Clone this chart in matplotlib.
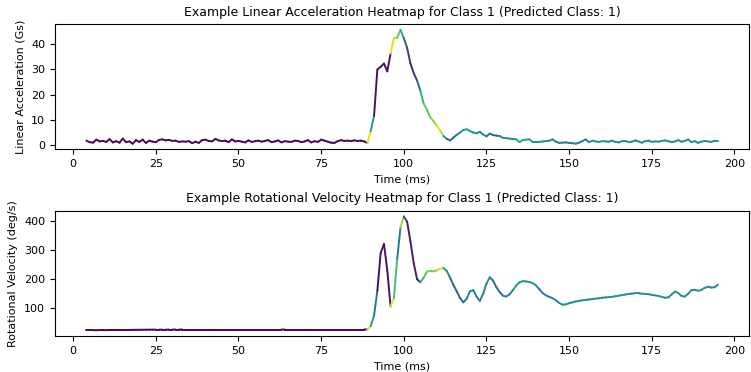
import numpy as np
import matplotlib
matplotlib.use("Agg")
import matplotlib.pyplot as plt
from matplotlib.collections import LineCollection

time_ms = np.arange(4, 196)

# linear acceleration (Gs), t = 4 .. 195
lin_acc = [
    1.8, 1.2, 1.0, 2.2, 1.5, 1.7, 1.3, 2.4, 1.1, 1.6,   # 4-13
    1.0, 2.6, 1.2, 1.5, 0.6, 2.0, 1.3, 2.2, 0.9, 1.8,   # 14-23
    1.4, 1.2, 2.1, 2.3, 1.9, 2.1, 1.7, 1.8, 1.3, 1.5,   # 24-33
    1.4, 1.6, 0.8, 1.4, 0.9, 2.0, 2.2, 1.7, 1.5, 2.5,   # 34-43
    1.9, 1.6, 1.8, 1.2, 2.3, 1.5, 1.7, 1.4, 1.1, 1.9,   # 44-53
    1.3, 1.6, 1.8, 1.4, 1.7, 2.0, 1.2, 1.5, 1.9, 1.1,   # 54-63
    1.6, 1.4, 1.3, 1.8, 1.7, 1.2, 1.5, 2.0, 1.1, 1.6,   # 64-73
    1.3, 2.2, 1.8, 1.4, 1.0, 0.9, 1.6, 2.0, 1.7, 1.8,   # 74-83
    1.6, 1.9, 1.7, 1.8, 1.5, 0.9, 5.6, 11.6, 29.9, 31.0,  # 84-93
    32.3, 29.2, 36.3, 42.3, 42.5, 45.6, 42.3, 38.5, 32.3, 28.5,  # 94-103
    25.6, 21.6, 16.5, 14.0, 11.0, 9.5, 7.6, 5.8, 3.6, 2.5,  # 104-113
    1.9, 3.0, 4.1, 5.0, 6.0, 6.3, 5.6, 5.0, 4.7, 5.3,   # 114-123
    4.2, 3.5, 4.6, 4.0, 3.8, 3.6, 2.9, 2.8, 2.6, 2.4,   # 124-133
    2.3, 1.2, 2.0, 2.2, 2.3, 1.2, 1.3, 1.3, 1.5, 1.6,   # 134-143
    1.8, 2.3, 1.4, 0.9, 1.0, 1.1, 0.9, 0.8, 0.6, 1.0,   # 144-153
    1.6, 2.3, 1.2, 1.8, 1.5, 1.3, 1.6,                  # 154-160
    1.5, 1.4, 1.8, 1.3, 1.1, 1.6, 1.7, 1.2, 1.4, 1.9,   # 161-170
    1.5, 1.0, 1.6, 1.8, 1.3, 1.5, 1.4, 1.7, 1.9, 1.6,   # 171-180
    1.2, 1.5, 2.0, 1.4, 1.7, 2.3, 1.2, 1.6, 0.9, 1.4,   # 181-190
    1.7, 1.5, 1.3, 1.8, 1.8,                            # 191-195
]

# importance (0..1) used for the heatmap colour of each segment
lin_imp = (
    [0.02] * 85 +                                         # 4-88
    [0.95, 0.55, 0.05, 0.05, 0.05, 0.05, 0.05,           # 89-95
     0.95, 0.9, 0.75, 0.6, 0.3, 0.15, 0.1, 0.15, 0.35,   # 96-104
     0.65, 0.75, 0.75, 0.8, 0.85, 0.95, 0.9, 0.55, 0.3,  # 105-113
     0.3, 0.35, 0.45, 0.5, 0.55, 0.6, 0.55, 0.5, 0.5,    # 114-122
     0.45, 0.5, 0.4, 0.35, 0.3, 0.35, 0.45, 0.5,         # 123-130
     0.5, 0.5, 0.5] +                                     # 131-133
    [0.6] * 5 +                                           # 134-138
    [0.5] * 7 +                                           # 139-145
    [0.42] * 10 +                                         # 146-155
    [0.5] * 40                                            # 156-195
)

# rotational velocity (deg/s), t = 4 .. 195
rot_vel = (
    [24.0, 24.0, 24.0, 24.2, 24.3, 24.3, 24.4, 24.5, 24.5, 24.6,   # 4-13
     24.6, 24.7, 24.8, 25.0, 25.2, 25.4, 25.5, 25.6, 25.7, 25.8,   # 14-23
     25.9, 26.0, 26.0, 26.1, 26.1, 26.2, 26.2, 26.3, 26.3, 26.4] +  # 24-33
    [26.4] * 30 +                                                   # 34-63
    [26.3] * 25 +                                                   # 64-88
    [27, 38, 75, 160, 290, 321, 230, 106, 135, 270,                 # 89-98
     378, 416, 398, 330, 255, 200, 189, 205, 226, 228,              # 99-108
     227, 230, 236, 238, 228, 205, 180, 158, 135, 120,              # 109-118
     132, 158, 162, 140, 125, 150, 185, 206, 195, 172,              # 119-128
     155, 143, 140, 148, 162, 178, 189, 193, 192, 190,              # 129-138
     186, 178, 165, 152, 144, 139, 134, 127, 118, 112,              # 139-148
     113, 117, 120, 123, 125, 127, 128, 130, 131, 133,              # 149-158
     134, 136, 137, 138, 139, 141, 143, 145, 147, 149,              # 159-168
     150, 151, 151, 150, 149, 148, 146, 144, 142, 139,              # 169-178
     136, 137, 147, 157, 152, 142, 140, 150, 162, 163,              # 179-188
     160, 163, 170, 174, 171, 172, 181]                             # 189-195
)

rot_imp = (
    [0.02] * 85 +                                         # 4-88
    [0.95, 0.55, 0.4, 0.05, 0.05, 0.05, 0.05,            # 89-95
     0.95, 0.7, 0.4, 0.85, 0.2, 0.08, 0.08, 0.08, 0.08,  # 96-104
     0.65, 0.75, 0.8, 0.8, 0.8, 0.9, 0.95, 0.55, 0.45,   # 105-113
     0.35, 0.3, 0.3, 0.3, 0.4,                           # 114-118
     0.45, 0.45, 0.45, 0.45, 0.45, 0.45, 0.5, 0.4,       # 119-126
     0.35, 0.35, 0.35, 0.45, 0.45, 0.45] +               # 127-132
    [0.55] * 7 +                                          # 133-139
    [0.45] * 6 +                                          # 140-145
    [0.5] * 50                                            # 146-195
)


def heat_line(ax, x, y, imp):
    pts = np.column_stack([x, y]).reshape(-1, 1, 2)
    segs = np.concatenate([pts[:-1], pts[1:]], axis=1)
    lc = LineCollection(segs, cmap="viridis", norm=plt.Normalize(0, 1),
                        linewidth=1.4, capstyle="round")
    lc.set_array(np.asarray(imp[:-1]))
    ax.add_collection(lc)
    ax.autoscale_view()


plt.rcParams["font.size"] = 8

fig, (ax1, ax2) = plt.subplots(2, 1, figsize=(7.51, 3.72), dpi=100)
fig.subplots_adjust(left=0.073, right=0.998, top=0.935, bottom=0.097, hspace=0.49)

heat_line(ax1, time_ms, lin_acc, lin_imp)
ax1.set_title("Example Linear Acceleration Heatmap for Class 1 (Predicted Class: 1)", fontsize=9)
ax1.set_xlabel("Time (ms)")
ax1.set_ylabel("Linear Acceleration (Gs)")

heat_line(ax2, time_ms, rot_vel, rot_imp)
ax2.set_title("Example Rotational Velocity Heatmap for Class 1 (Predicted Class: 1)", fontsize=9)
ax2.set_xlabel("Time (ms)")
ax2.set_ylabel("Rotational Velocity (deg/s)")
ax2.set_yticks([100, 200, 300, 400])

fig.savefig("out.png", dpi=100)
